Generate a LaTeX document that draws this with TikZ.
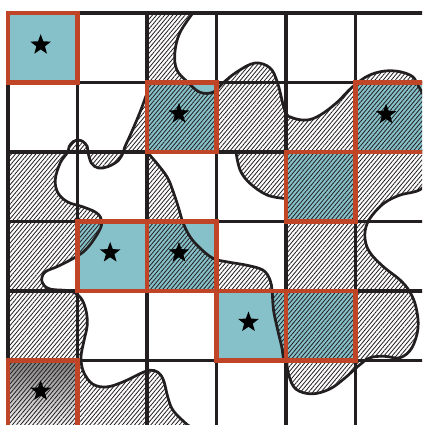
\documentclass[tikz,border=0pt]{standalone}
\usepackage{tikz}
\usetikzlibrary{patterns.meta,shapes.geometric}
\definecolor{cellteal}{RGB}{134,193,201}
\definecolor{pickred}{RGB}{192,68,38}
\definecolor{ink}{RGB}{35,31,32}
\definecolor{shade}{RGB}{212,212,212}

\begin{document}
\begin{tikzpicture}[x=1.8cm, y=-1.8cm,
    blobhatch/.style={pattern={Lines[angle=50,distance=2.3pt,line width=0.6pt]}, pattern color=ink},
    blobline/.style={ink, line width=2pt},
    thinrule/.style={ink, line width=1.5pt},
    thickrule/.style={ink, line width=3.5pt},
    pickcell/.style={pickred, line width=3pt},
    starmark/.style={star, star points=5, star point ratio=2.4, fill=black, inner sep=0pt, minimum size=0.56cm}]
  \useasboundingbox (-0.115,-0.187) rectangle (5.957,5.928);
  \clip (-0.115,-0.187) rectangle (5.957,5.928);
  \fill[white] (-0.115,-0.187) rectangle (5.957,5.928);

  \fill[cellteal] (0,0) rectangle ++(1,1);
  \fill[cellteal] (2,1) rectangle ++(1,1);
  \fill[cellteal] (5,1) rectangle ++(1,1);
  \fill[cellteal] (4,2) rectangle ++(1,1);
  \fill[cellteal] (1,3) rectangle ++(1,1);
  \fill[cellteal] (2,3) rectangle ++(1,1);
  \fill[cellteal] (3,4) rectangle ++(1,1);
  \fill[cellteal] (4,4) rectangle ++(1,1);
  \fill[shade] (0,5) rectangle ++(1,1);

  % hatched parts of the blob
  \fill[blobhatch] plot[smooth, tension=0.6] coordinates {(2.66,0) (2.47,0.29) (2.40,0.58) (2.43,0.82) (2.58,0.99) (2.76,1.14) (2.95,1.14) (3.09,1.01) (3.29,0.85) (3.55,0.72) (3.77,0.79) (3.88,1.01) (3.99,1.42) (4.10,1.51) (4.30,1.54) (4.49,1.47) (4.73,1.29) (4.96,1.06) (5.21,0.89) (5.50,0.83) (5.78,0.89) (5.90,1.04) (6.10,1.50) (6.12,2.20) (5.96,2.52) (5.64,2.62) (5.42,2.73) (5.24,2.91) (5.15,3.08) (5.14,3.27) (5.21,3.45) (5.40,3.65) (5.64,3.84) (5.78,4.01) (5.87,4.23) (5.90,4.53) (5.81,4.82) (5.64,4.96) (5.42,4.94) (5.21,4.96) (5.04,5.08) (4.85,5.25) (4.63,5.41) (4.37,5.48) (4.14,5.41) (4.04,5.21) (4.01,5.02)}
    -- (4,5.02) -- (4,2) -- (2,2) -- (2,0) -- cycle;
  \fill[blobhatch] (0,2) -- plot[smooth, tension=0.6] coordinates {(0.86,2.00) (0.75,2.16) (0.68,2.40) (0.72,2.59) (0.86,2.72) (1.08,2.79) (1.28,2.88) (1.35,3.01) (1.28,3.19) (1.08,3.44) (0.75,3.63) (0.53,3.73) (0.49,3.87) (0.60,3.97) (0.89,4.00) (1.04,4.09) (1.12,4.27) (1.14,4.49) (1.09,4.73) (1.05,4.96) (1.09,5.17) (1.22,5.34) (1.42,5.38) (1.65,5.31) (1.90,5.19) (2.04,5.14) (2.16,5.17) (2.24,5.29) (2.30,5.53) (2.37,5.71) (2.52,5.87) (2.65,5.97) (2.83,6.03)}
    -- (2.83,6.2) -- (0,6.2) -- cycle;
  \fill[blobhatch] plot[smooth, tension=0.6] coordinates {(2.00,1.15) (1.91,1.40) (1.78,1.71) (1.68,1.93) (1.65,2.00)} -- (2,2) -- cycle;
  \fill[blobhatch] plot[smooth, tension=0.6] coordinates {(1.66,2.00) (1.59,2.12) (1.44,2.21) (1.30,2.23) (1.20,2.16) (1.15,2.00)} -- cycle;
  \fill[blobhatch] plot[smooth, tension=0.6] coordinates {(1.15,2.00) (1.14,1.92) (1.08,1.85) (1.01,1.83) (0.94,1.85) (0.88,1.92) (0.86,2.00)} -- cycle;
  \fill[blobhatch] plot[smooth, tension=0.6] coordinates {(2.00,2.00) (2.14,2.16) (2.29,2.36) (2.37,2.55) (2.45,2.79) (2.52,3.02) (2.62,3.22) (2.76,3.38) (2.95,3.53) (3.15,3.58) (3.44,3.63) (3.67,3.70) (3.77,3.84) (3.80,4.00)} -- (2,4) -- cycle;
  \fill[blobhatch] plot[smooth, tension=0.6] coordinates {(3.80,4.00) (3.82,4.27) (3.88,4.56) (3.94,4.81) (3.96,4.95) (3.99,5.02)} -- (4,5.02) -- (4,4) -- cycle;
  \fill[blobhatch] plot[smooth, tension=0.6] coordinates {(3.28,2.00) (3.34,2.26) (3.48,2.45) (3.73,2.62) (4.00,2.67)} -- (4,2) -- cycle;

  % outline of the blob
  \draw[blobline] plot[smooth, tension=0.6] coordinates {(2.66,0) (2.47,0.29) (2.40,0.58) (2.43,0.82) (2.58,0.99) (2.76,1.14) (2.95,1.14) (3.09,1.01) (3.29,0.85) (3.55,0.72) (3.77,0.79) (3.88,1.01) (3.99,1.42) (4.10,1.51) (4.30,1.54) (4.49,1.47) (4.73,1.29) (4.96,1.06) (5.21,0.89) (5.50,0.83) (5.78,0.89) (5.90,1.04) (6.10,1.50) (6.12,2.20) (5.96,2.52) (5.64,2.62) (5.42,2.73) (5.24,2.91) (5.15,3.08) (5.14,3.27) (5.21,3.45) (5.40,3.65) (5.64,3.84) (5.78,4.01) (5.87,4.23) (5.90,4.53) (5.81,4.82) (5.64,4.96) (5.42,4.94) (5.21,4.96) (5.04,5.08) (4.85,5.25) (4.63,5.41) (4.37,5.48) (4.14,5.41) (4.04,5.21) (4.01,5.02)};
  \draw[blobline] plot[smooth, tension=0.6] coordinates {(2.00,1.15) (1.91,1.40) (1.78,1.71) (1.68,1.93) (1.66,2.00) (1.59,2.12) (1.44,2.21) (1.30,2.23) (1.20,2.16) (1.15,2.00) (1.14,1.92) (1.08,1.85) (1.01,1.83) (0.94,1.85) (0.88,1.92) (0.86,2.00) (0.75,2.16) (0.68,2.40) (0.72,2.59) (0.86,2.72) (1.08,2.79) (1.28,2.88) (1.35,3.01) (1.28,3.19) (1.08,3.44) (0.75,3.63) (0.53,3.73) (0.49,3.87) (0.60,3.97) (0.89,4.00) (1.04,4.09) (1.12,4.27) (1.14,4.49) (1.09,4.73) (1.05,4.96) (1.09,5.17) (1.22,5.34) (1.42,5.38) (1.65,5.31) (1.90,5.19) (2.04,5.14) (2.16,5.17) (2.24,5.29) (2.30,5.53) (2.37,5.71) (2.52,5.87) (2.65,5.97) (2.83,6.03)};
  \draw[blobline] plot[smooth, tension=0.6] coordinates {(2.00,2.00) (2.14,2.16) (2.29,2.36) (2.37,2.55) (2.45,2.79) (2.52,3.02) (2.62,3.22) (2.76,3.38) (2.95,3.53) (3.15,3.58) (3.44,3.63) (3.67,3.70) (3.77,3.84) (3.80,4.00) (3.82,4.27) (3.88,4.56) (3.94,4.81) (3.96,4.95) (3.99,5.02)};
  \draw[blobline] plot[smooth, tension=0.6] coordinates {(3.28,2.00) (3.34,2.26) (3.48,2.45) (3.73,2.62) (4.00,2.67)};

  \foreach \k in {1,3,5} {
    \draw[thinrule] (\k,0) -- (\k,6);
    \draw[thinrule] (0,\k) -- (6,\k);
  }
  \foreach \k in {2,4} {
    \draw[thickrule] (\k,0) -- (\k,6);
    \draw[thickrule] (0,\k) -- (6,\k);
  }
  \draw[thickrule] (0,0) rectangle (6,6);

  \draw[pickcell] (0,0) rectangle ++(1,1);
  \draw[pickcell] (2,1) rectangle ++(1,1);
  \draw[pickcell] (5,1) rectangle ++(1,1);
  \draw[pickcell] (4,2) rectangle ++(1,1);
  \draw[pickcell] (1,3) rectangle ++(1,1);
  \draw[pickcell] (2,3) rectangle ++(1,1);
  \draw[pickcell] (3,4) rectangle ++(1,1);
  \draw[pickcell] (4,4) rectangle ++(1,1);
  \draw[pickcell] (0,5) rectangle ++(1,1);

  \node[starmark] (starA) at (0.47,0.46) {};
  \node[starmark] (starB) at (2.46,1.45) {};
  \node[starmark] (starC) at (5.44,1.46) {};
  \node[starmark] (starD) at (1.47,3.45) {};
  \node[starmark] (starE) at (2.46,3.45) {};
  \node[starmark] (starF) at (3.46,4.45) {};
  \node[starmark] (starG) at (0.47,5.44) {};
\end{tikzpicture}
\end{document}
